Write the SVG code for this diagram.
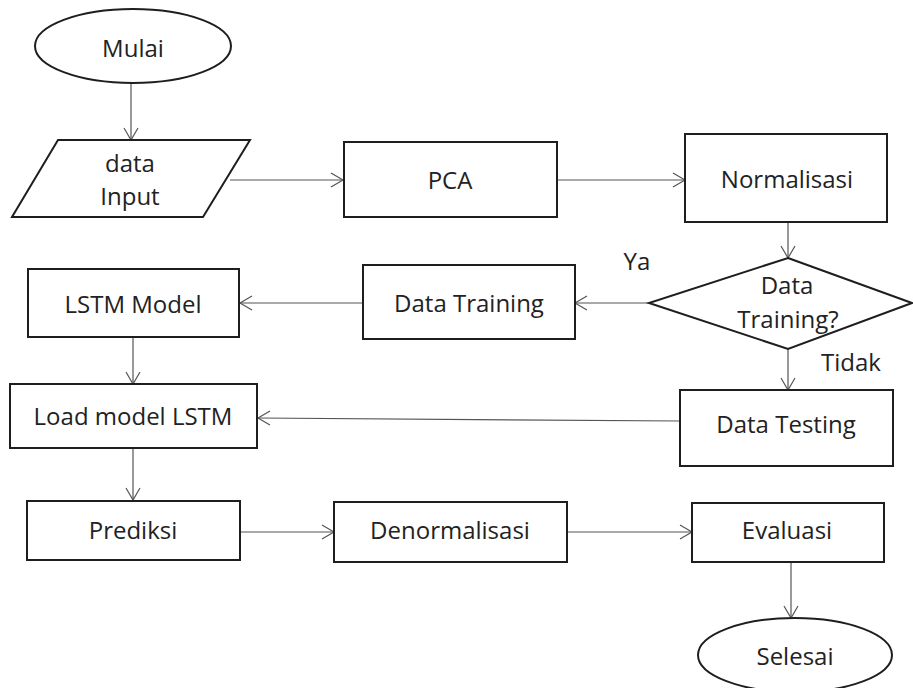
<svg xmlns="http://www.w3.org/2000/svg" width="913" height="688" viewBox="0 0 913 688">
<defs>
<marker id="arr" markerUnits="userSpaceOnUse" markerWidth="16" markerHeight="18" viewBox="0 0 16 18" refX="13" refY="9" orient="auto">
<path d="M1,2 L13,9 L1,16" fill="none" stroke="#555" stroke-width="1.2"/>
</marker>
<style>
.n{fill:#fff;stroke:#1e1e1e;stroke-width:2}
.t{font-family:"Open Sans","Liberation Sans",sans-serif;font-size:24px;fill:#222;text-anchor:middle}
.c{fill:none;stroke:#555;stroke-width:1.2;marker-end:url(#arr)}
</style>
</defs>
<rect width="913" height="688" fill="#fff"/>
<g id="connectors">
<line class="c" x1="131" y1="83" x2="131" y2="140"/>
<line class="c" x1="230" y1="180" x2="343" y2="180"/>
<line class="c" x1="557" y1="180" x2="685" y2="180"/>
<line class="c" x1="788" y1="222" x2="788" y2="258"/>
<line class="c" x1="649" y1="303" x2="575" y2="303"/>
<line class="c" x1="788" y1="349" x2="788" y2="390"/>
<line class="c" x1="363" y1="303" x2="240" y2="303"/>
<line class="c" x1="133" y1="337" x2="133" y2="384"/>
<line class="c" x1="680" y1="421" x2="258" y2="418"/>
<line class="c" x1="133" y1="448" x2="133" y2="500"/>
<line class="c" x1="240" y1="532" x2="334" y2="532"/>
<line class="c" x1="567" y1="532" x2="692" y2="532"/>
<line class="c" x1="791" y1="562" x2="791" y2="618"/>
</g>
<g id="mulai"><ellipse class="n" cx="133" cy="46" rx="98" ry="37"/><text class="t" x="133" y="57">Mulai</text></g>
<g id="input"><polygon class="n" points="58,140 250,140 203,217 12,217"/><text class="t" x="130" y="172">data</text><text class="t" x="130" y="205">Input</text></g>
<g id="pca"><rect class="n" x="344" y="142" width="213" height="75"/><text class="t" x="450" y="189">PCA</text></g>
<g id="normalisasi"><rect class="n" x="685" y="134" width="202" height="88"/><text class="t" x="787" y="188">Normalisasi</text></g>
<g id="decision"><polygon class="n" points="788,258 912,303 788,349 649,303"/><text class="t" x="787" y="294">Data</text><text class="t" x="788" y="328">Training?</text></g>
<g id="label-ya"><text class="t" x="637" y="270">Ya</text></g>
<g id="label-tidak"><text class="t" x="851" y="371">Tidak</text></g>
<g id="datatraining"><rect class="n" x="363" y="265" width="212" height="74"/><text class="t" x="469" y="312">Data Training</text></g>
<g id="datatesting"><rect class="n" x="680" y="390" width="213" height="76"/><text class="t" x="786" y="433">Data Testing</text></g>
<g id="lstmmodel"><rect class="n" x="28" y="269" width="211" height="68"/><text class="t" x="133" y="313">LSTM Model</text></g>
<g id="loadmodel"><rect class="n" x="10" y="384" width="247" height="64"/><text class="t" x="133" y="425">Load model LSTM</text></g>
<g id="prediksi"><rect class="n" x="27" y="501" width="213" height="59"/><text class="t" x="133" y="539">Prediksi</text></g>
<g id="denormalisasi"><rect class="n" x="334" y="502" width="233" height="60"/><text class="t" x="450" y="539">Denormalisasi</text></g>
<g id="evaluasi"><rect class="n" x="692" y="503" width="192" height="59"/><text class="t" x="787" y="539">Evaluasi</text></g>
<g id="selesai"><ellipse class="n" cx="795" cy="655" rx="97" ry="37"/><text class="t" x="795" y="665">Selesai</text></g>
</svg>
